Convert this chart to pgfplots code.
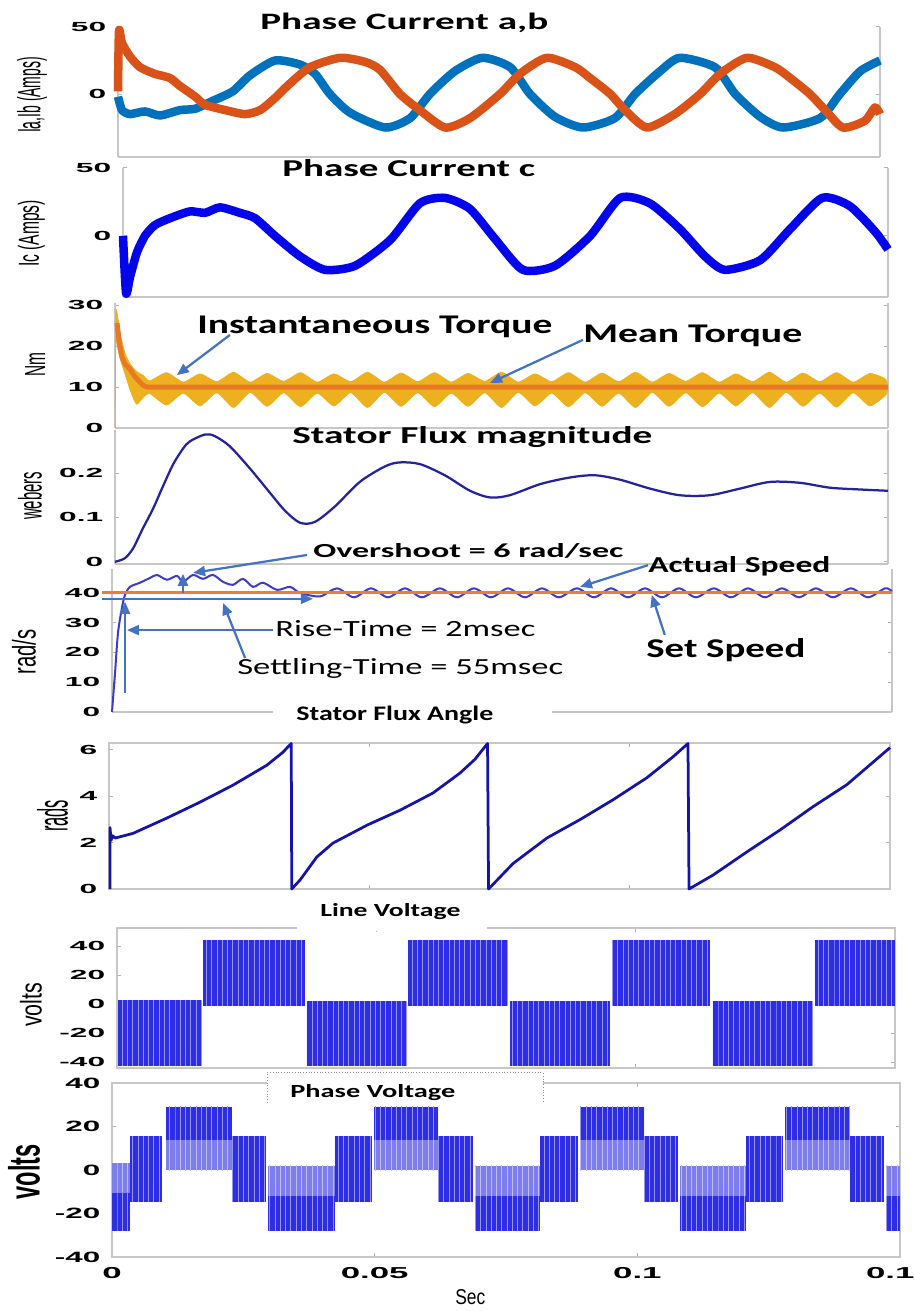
\documentclass[border=0pt]{standalone}
\usepackage{fontspec}
\usepackage{graphicx}
\usepackage{pgfplots}
\pgfplotsset{compat=1.18}
\usetikzlibrary{arrows.meta,patterns}
\setmainfont{Liberation Sans}
\newfontfamily\calfont{Carlito}

% one drawing unit = 0.2 mm
\newdimen\pxu \pxu=0.2mm
\newcommand\fit[3]{\resizebox{#1\pxu}{#2\pxu}{#3}}   % width, height above baseline
\newcommand\fitt[3]{\resizebox*{#1\pxu}{#2\pxu}{#3}} % width, total height
\newcommand\tickfont{\fontsize{7.5}{8}\selectfont\bfseries}
\newcommand\bigtickfont{\fontsize{9}{10}\selectfont\bfseries}

\definecolor{cA}{RGB}{0,114,189}
\definecolor{cB}{RGB}{217,83,25}
\definecolor{cC}{RGB}{5,5,235}
\definecolor{cTq}{RGB}{237,177,32}
\definecolor{cMean}{RGB}{232,120,35}
\definecolor{cFlux}{RGB}{35,35,160}
\definecolor{cSpd}{RGB}{60,60,200}
\definecolor{cSet}{RGB}{237,125,49}
\definecolor{cAng}{RGB}{20,20,170}
\definecolor{cVdark}{RGB}{45,45,228}
\definecolor{cVlight}{RGB}{125,125,236}
\definecolor{cArr}{RGB}{68,114,196}

\tikzset{annot/.style={cArr, line width=0.45mm, -{Triangle[length=2.4mm,width=2mm]}}}
\pgfplotsset{
  panel/.style={scale only axis, anchor=north west, xmin=0, xmax=150,
    axis line style={black!22, line width=0.25mm},
    tick style={black!30, line width=0.2mm}, tick align=inside,
    major tick length=0.8mm, xtick=\empty,
    yticklabel shift=2.2mm, clip=false},
  wideticks/.style={yticklabel style={font=\tickfont, xscale=2.4, inner sep=0pt}},
  sides/.style={axis x line*=none, axis y line*=box},
}
% one PWM block of a voltage trace: x1, x2, y1, y2, colour
\newcommand\blk[5]{\addplot[fill=#5, draw=none, forget plot,
  postaction={pattern=vertical lines, pattern color=white!50!#5}]
  coordinates {(#1,#3) (#2,#3) (#2,#4) (#1,#4)};}

\begin{document}
\begin{tikzpicture}
\useasboundingbox (0,0) rectangle (182.8mm,-262.2mm);
\clip (0,0) rectangle (182.8mm,-262.2mm);

% ---------------- phase currents a, b
\begin{axis}[panel, wideticks, sides, at={(23.6mm,-5.4mm)}, width=152.4mm, height=26mm,
  ymin=-47, ymax=50, ytick={0,50}, yticklabels={0,50}]
\addplot[cA, line width=1.7mm, line join=round, smooth, tension=0.4] coordinates {
 (0,-2) (0.79,-12) (2.36,-15) (5.31,-13) (8.27,-16) (12.2,-12) (15.2,-11)
 (18.7,-5) (22.6,2) (26.0,14) (30.9,25) (35.8,22) (38.8,15) (41.7,0)
 (45.7,-14) (52.6,-25) (57.5,-18) (61.4,0) (66.3,17) (71.7,27) (77.2,20)
 (81.1,0) (86.0,-17) (91.5,-25) (97.8,-18) (101.8,0) (106.7,17) (110.6,27)
 (117.5,20) (121.5,0) (126.4,-17) (130.9,-25) (138.2,-18) (142.1,0)
 (146.1,17) (150,25)};
\addplot[cB, line width=1.7mm, line join=round, smooth, tension=0.4] coordinates {
 (0,2) (0.2,47) (0.79,38) (2.36,28) (4.33,20) (7.28,15) (10.2,12) (12.2,6)
 (15.2,-2) (17.1,-8) (21.1,-12) (25.0,-15) (28.0,-12) (30.9,-3) (33.9,8)
 (37.8,20) (43.7,27) (48.6,24) (51.6,18) (55.5,0) (59.4,-12) (64.4,-25)
 (69.3,-18) (75.2,0) (79.1,15) (84.4,27) (90.0,20) (92.9,12) (96.9,0)
 (99.8,-12) (104.1,-25) (109.6,-15) (114.6,0) (118.5,15) (123.8,27)
 (129.3,20) (132.3,12) (136.2,0) (139.2,-12) (142.7,-25) (147.0,-20)
 (149.0,-10) (150,-15)};
\end{axis}

% ---------------- phase current c
\begin{axis}[panel, wideticks, sides, at={(24.6mm,-33.6mm)}, width=153mm, height=25.8mm,
  ymin=-45, ymax=50, ytick={0,50}, yticklabels={0,50}]
\addplot[cC, line width=1.7mm, line join=round, smooth, tension=0.4] coordinates {
 (0,0) (0.6,-42) (1.4,-30) (2.75,-12) (4.31,0) (6.27,8) (9.2,13) (13.1,18)
 (16.1,17) (19.0,21) (22.9,17) (25.9,13) (29.8,0) (34.7,-15) (39.6,-25)
 (45.5,-22) (52.4,-3) (58.2,24) (63.1,28) (68.0,20) (72.9,-2) (78.4,-25)
 (84.7,-22) (91.6,0) (97.5,28) (103.3,24) (109.2,5) (114.1,-15) (118.0,-25)
 (124.9,-18) (130.8,5) (137.1,28) (142.5,22) (147.5,3) (150,-10)};
\end{axis}

% ---------------- torque
\begin{axis}[panel, wideticks, sides, at={(23mm,-60.6mm)}, width=154.6mm, height=25mm,
  ymin=0, ymax=30.5, ytick={0,10,20,30}, yticklabels={0,10,20,30}]
\addplot[fill=cTq, draw=cTq, line width=0.15mm, smooth, tension=0.35] coordinates {
 (0.05,0) (0.15,28) (0.6,26.5) (1.2,22) (2.0,18) (3.0,15.5) (4.2,13.8)
 (5.5,12.8) (6.75,11.5) (10,13.5) (13.25,11.2) (16.5,13.2) (19.75,11.3)
 (23,13.6) (26.25,11.2) (29.5,13.3) (32.75,11.4) (36,13.5) (39.25,11.2)
 (42.5,13.2) (45.75,11.3) (49,13.6) (52.25,11.2) (55.5,13.4) (58.75,11.3)
 (62,13.5) (65.25,11.2) (68.5,13.3) (71.75,11.4) (75,13.6) (78.25,11.2)
 (81.5,13.2) (84.75,11.3) (88,13.5) (91.25,11.2) (94.5,13.4) (97.75,11.3)
 (101,13.6) (104.25,11.2) (107.5,13.3) (110.75,11.4) (114,13.5)
 (117.25,11.2) (120.5,13.2) (123.75,11.3) (127,13.6) (130.25,11.2)
 (133.5,13.4) (136.75,11.3) (140,13.5) (143.25,11.2) (146.5,13.3)
 (149.6,11.8)
 (149.7,8.3) (146.5,5.4) (143.25,8.6) (140,5.1) (136.75,8.5) (133.5,5.3)
 (130.25,8.7) (127,5.0) (123.75,8.6) (120.5,5.4) (117.25,8.5) (114,5.2)
 (110.75,8.6) (107.5,5.3) (104.25,8.7) (101,5.0) (97.75,8.5) (94.5,5.3)
 (91.25,8.6) (88,5.2) (84.75,8.5) (81.5,5.4) (78.25,8.7) (75,5.0)
 (71.75,8.6) (68.5,5.3) (65.25,8.5) (62,5.2) (58.75,8.6) (55.5,5.3)
 (52.25,8.7) (49,5.0) (45.75,8.6) (42.5,5.4) (39.25,8.5) (36,5.2)
 (32.75,8.6) (29.5,5.3) (26.25,8.7) (23,5.0) (19.75,8.6) (16.5,5.4)
 (13.25,8.5) (10,5.6) (6.75,8.4) (5.5,7.5) (4.2,5.8) (3.0,9) (2.0,13)
 (1.2,16) (0.6,19) (0.15,21) (0.06,0)};
\addplot[cMean, line width=1mm, line join=round] coordinates {
 (0.39,25.6) (0.8,21) (1.36,17.3) (2.0,15.5) (2.91,14.4) (3.8,12.6)
 (4.85,11.2) (5.5,10.4) (6.2,10) (150,10)};
\draw[annot] (axis cs:22.3,22.7) -- (axis cs:12.0,12.9);
\draw[annot] (axis cs:90.8,21.5) -- (axis cs:72.8,11.0);
\end{axis}

% ---------------- stator flux magnitude
\begin{axis}[panel, wideticks, sides, at={(23mm,-86mm)}, width=154.6mm, height=26.8mm,
  ymin=-0.005, ymax=0.297, ytick={0,0.1,0.2}, yticklabels={0,0.1,0.2}]
\addplot[cFlux, line width=0.45mm, smooth] coordinates {
 (0,0) (1.9,0.008) (3.5,0.03) (5.4,0.075) (7.4,0.12) (9.3,0.17) (11.3,0.22)
 (13.2,0.255) (14.6,0.272) (17.5,0.287) (19.4,0.283) (22.3,0.26) (26.2,0.21)
 (30.1,0.155) (33.0,0.115) (35.9,0.088) (38.8,0.09) (42.7,0.125) (47.5,0.18)
 (52.4,0.215) (55.3,0.224) (59.2,0.22) (64.0,0.195) (68.9,0.16) (72.8,0.145)
 (76.6,0.15) (82.5,0.175) (88.3,0.19) (93.1,0.195) (98.0,0.185) (103.8,0.165)
 (109.6,0.15) (115.4,0.15) (121.3,0.165) (127.1,0.18) (132.9,0.178)
 (138.7,0.167) (144.5,0.163) (150,0.16)};
\end{axis}

% ---------------- rotor speed
\begin{axis}[panel, wideticks, axis x line*=bottom, axis y line*=box, at={(22.4mm,-113.8mm)},
  width=156mm, height=28.6mm, ymin=0, ymax=48,
  ytick={0,10,20,30,40}, yticklabels={0,10,20,30,40}]
\addplot[cSpd, line width=0.4mm, smooth, tension=0.5] coordinates {
 (0,0) (0.58,13) (1.15,26.5) (1.92,35) (2.5,39.3) (3.46,42) (5.38,43.4)
 (7.31,45) (8.65,46) (10.58,44.4) (12.5,45.7) (13.65,43.7) (15.58,46)
 (17.5,44.7) (19.42,46) (21.35,43.7) (23.27,42.7) (25.19,44.7) (27.12,42)
 (29.04,43.4) (31.73,41) (34.23,42) (36.15,40) (40.0,38.8) (43.27,41.5)
 (46.54,38.5) (49.81,41.5) (53.07,38.5) (56.34,41.5) (59.61,38.5)
 (63.07,41.5) (66.34,38.5) (69.61,41.5) (72.88,38.5) (76.15,41.5)
 (79.42,38.5) (82.69,41.5) (85.96,38.5) (89.42,41.5) (92.69,38.5)
 (95.96,41.5) (99.23,38.5) (102.5,41.5) (105.77,38.5) (109.03,41.5)
 (112.3,38.5) (115.76,41.5) (119.04,38.5) (122.3,41.5) (125.57,38.5)
 (128.84,41.5) (132.11,38.5) (135.38,41.5) (138.65,38.5) (142.11,41.5)
 (145.38,38.5) (148.65,41.5) (150,40.5)};
\addplot[cSet, line width=0.55mm] coordinates {(-1.92,40) (150,40)};
\draw[annot] (axis cs:-1.92,38) -- (axis cs:38.65,38);
\draw[annot] (axis cs:2.5,6.4) -- (axis cs:2.5,37.0);
\draw[annot] (axis cs:30.96,27.5) -- (axis cs:2.88,27.5);
\draw[annot] (axis cs:37.5,52.7) -- (axis cs:15.6,46.7);
\draw[annot] (axis cs:13.65,40) -- (axis cs:13.65,46.4);
\draw[annot] (axis cs:25.6,18.1) -- (axis cs:21.35,36.6);
\draw[annot] (axis cs:103.1,49.3) -- (axis cs:90.0,42.0);
\draw[annot] (axis cs:106.3,25.9) -- (axis cs:103.8,39.3);
\end{axis}

% ---------------- stator flux angle
\begin{axis}[panel, wideticks, at={(21.8mm,-148.6mm)}, width=156.2mm, height=29.2mm,
  ymin=0, ymax=6.3, ytick={0,2,4,6}, yticklabels={0,2,4,6},
  xtick={50,100}, xticklabels={,,}]
\addplot[cAng, line width=0.55mm, line join=round] coordinates {
 (0.2,0) (0.2,2.65) (0.4,2.1) (0.7,2.3) (1.2,2.2) (4.6,2.4) (11.1,3.06)
 (17.5,3.75) (23.8,4.48) (30.3,5.34) (33.4,5.9) (35.0,6.28) (35.1,0)
 (36.7,0.39) (39.9,1.38) (43.0,1.98) (49.6,2.76) (55.9,3.4) (62.2,4.14)
 (67.4,5.0) (70.3,5.6) (72.7,6.28) (72.9,0) (77.6,1.1) (84.1,2.2)
 (90.5,3.0) (96.8,3.85) (103.3,4.8) (108.3,5.7) (111.2,6.28) (111.4,0)
 (116.0,0.6) (122.5,1.6) (128.9,2.55) (135.2,3.55) (141.7,4.5) (150,6.1)};
\end{axis}

% ---------------- line voltage
\begin{axis}[panel, wideticks, at={(23.4mm,-185.6mm)}, width=155.6mm, height=28mm,
  ymin=-44, ymax=52.4, ytick={-40,-20,0,20,40}, yticklabels={-40,-20,0,20,40},
  xtick={50,100}, xticklabels={,,}]
\blk{0.2}{16.4}{-42.5}{2.5}{cVdark}
\blk{16.6}{36.2}{-1}{44}{cVdark}
\blk{36.6}{55.9}{-42.5}{2}{cVdark}
\blk{56.1}{75.4}{-1}{44}{cVdark}
\blk{75.8}{95.0}{-42.5}{2}{cVdark}
\blk{95.4}{114.3}{-1}{44}{cVdark}
\blk{114.9}{134.2}{-42.5}{2}{cVdark}
\blk{134.6}{150}{-1}{44}{cVdark}
\end{axis}

% ---------------- phase voltage
\begin{axis}[panel, at={(22.4mm,-216.6mm)}, width=157.6mm, height=34.8mm,
  ymin=-40, ymax=40, ytick={-40,-20,0,20,40}, yticklabels={-40,-20,0,20,40},
  yticklabel style={font=\fontsize{8.5}{9}\selectfont\bfseries, xscale=2.1, inner sep=0pt},
  xtick={0,50,100,150}, xticklabels={0,0.05,0.1,0.15},
  xticklabel style={font=\bigtickfont, xscale=2.2, inner sep=0pt},
  xticklabel shift=2mm]
\blk{0}{3.4}{-14}{3}{cVlight}
\blk{0}{3.4}{-28}{-10.5}{cVdark}
\blk{3.4}{9.5}{-14.5}{15.5}{cVdark}
% top step, middle step, bottom step, middle step
\blk{10.3}{22.8}{0}{14}{cVlight}   \blk{10.3}{22.8}{14}{29}{cVdark}
\blk{22.8}{29.3}{-14.5}{15.5}{cVdark}
\blk{29.7}{42.4}{-13.5}{2}{cVlight} \blk{29.7}{42.4}{-28}{-12}{cVdark}
\blk{42.4}{49.5}{-14.5}{15.5}{cVdark}
\blk{49.9}{62.1}{0}{14}{cVlight}   \blk{49.9}{62.1}{14}{29}{cVdark}
\blk{62.1}{68.7}{-14.5}{15.5}{cVdark}
\blk{69.1}{81.5}{-13.5}{2}{cVlight} \blk{69.1}{81.5}{-28}{-12}{cVdark}
\blk{81.5}{88.7}{-14.5}{15.5}{cVdark}
\blk{89.1}{101.3}{0}{14}{cVlight}  \blk{89.1}{101.3}{14}{29}{cVdark}
\blk{101.3}{107.7}{-14.5}{15.5}{cVdark}
\blk{108.1}{120.7}{-13.5}{2}{cVlight} \blk{108.1}{120.7}{-28}{-12}{cVdark}
\blk{120.7}{127.7}{-14.5}{15.5}{cVdark}
\blk{128.1}{140.5}{0}{14}{cVlight}  \blk{128.1}{140.5}{14}{29}{cVdark}
\blk{140.5}{147.0}{-14.5}{15.5}{cVdark}
\blk{147.3}{150}{-13.5}{2}{cVlight} \blk{147.3}{150}{-28}{-12}{cVdark}
\end{axis}

\begin{scope}[x=0.2mm, y=-0.2mm]
% gaps in the frames behind the panel captions
\fill[white] (273,708) rectangle (552,719);
\fill[white] (297,925) rectangle (487,931);
\fill[white] (267,1073) rectangle (543,1103);
\draw[black!45, densely dotted, line width=0.2mm] (267,1103) -- (267,1073) -- (543,1073) -- (543,1103);

% captions and annotations
\tikzset{txt/.style={anchor=base west, inner sep=0pt}}
\node[txt] at (260,30)  {\fit{288}{16.5}{\calfont\bfseries Phase Current a,b}};
\node[txt] at (282,177) {\fit{253}{17}{\calfont\bfseries Phase Current c}};
\node[txt] at (197,334) {\fit{355}{17.5}{\calfont\bfseries Instantaneous Torque}};
\node[txt] at (583,343) {\fit{219}{17.5}{\calfont\bfseries Mean Torque}};
\node[txt] at (292,444) {\fit{360}{17}{\calfont\bfseries Stator Flux magnitude}};
\node[txt] at (313,558) {\fit{310}{14}{\calfont\bfseries Overshoot = 6 rad/sec}};
\node[txt] at (648,573) {\fit{182}{16}{\calfont\bfseries Actual Speed}};
\node[txt] at (275,637) {\fit{260}{16}{\calfont Rise-Time = 2msec}};
\node[txt] at (237,675) {\fit{326}{16}{\calfont Settling-Time = 55msec}};
\node[txt] at (646,658) {\fit{159}{19}{\calfont\bfseries Set Speed}};
\node[txt] at (296,721) {\fit{197}{14.5}{\calfont\bfseries Stator Flux Angle}};
\node[txt] at (320,917) {\fit{140}{13}{\calfont\bfseries Line Voltage}};
\node[txt] at (290,1098) {\fit{165}{13}{\calfont\bfseries Phase Voltage}};

% axis titles
\tikzset{ylab/.style={rotate=90, anchor=center, inner sep=0pt}}
\node[ylab] at (32,95)     {\fitt{76}{30}{Ia,Ib (Amps)}};
\node[ylab] at (31.5,233.5){\fitt{67}{27}{Ic (Amps)}};
\node[ylab] at (35,365)    {\fitt{24}{20}{Nm}};
\node[ylab] at (30,496)    {\fitt{48}{24}{webers}};
\node[ylab] at (24,652)    {\fitt{45}{24}{rad/s}};
\node[ylab] at (52.5,816)  {\fitt{32}{31}{rads}};
\node[ylab] at (31,1005)   {\fitt{44}{22}{volts}};
\node[ylab] at (24,1172)   {\fitt{55}{32}{\bfseries volts}};
\node[anchor=base west, inner sep=0pt] at (455,1305) {\fit{30}{15}{Sec}};
\end{scope}
\end{tikzpicture}
\end{document}
